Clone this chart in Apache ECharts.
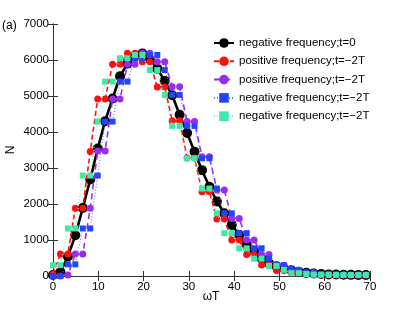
<!DOCTYPE html>
<html>
<head>
<meta charset="utf-8">
<script src="https://cdn.jsdelivr.net/npm/echarts@6/dist/echarts.min.js"></script>
<style>html,body{margin:0;padding:0;background:#fff}#c{width:409px;height:311px}</style>
</head>
<body>
<div id="c"></div>
<script>
var xValues = [0, 1.64, 3.29, 4.93, 6.58, 8.22, 9.87, 11.51, 13.16, 14.8, 16.45, 18.09, 19.74, 21.38, 23.03, 24.67, 26.32, 27.96, 29.61, 31.25, 32.9, 34.54, 36.19, 37.83, 39.48, 41.12, 42.77, 44.41, 46.06, 47.7, 49.35, 50.99, 52.64, 54.28, 55.93, 57.57, 59.22, 60.86, 62.51, 64.15, 65.8, 67.44, 69.09];
var negT0 = [30,110,540,1130,1890,2680,3540,4300,4930,5550,5900,6100,6180,6020,5760,5420,5020,4480,3970,3450,2940,2480,2070,1740,1420,1140,870,680,490,350,270,210,160,120,90,70,55,45,40,35,32,30,28];
var posA = [50,610,610,1880,1880,3460,4920,4920,5880,5880,6185,6185,5950,5950,5250,5250,4310,4310,3280,3280,2340,2340,1580,1580,1000,1000,600,600,305,305,150,150,80,80,45,45,30,30,28,28,26,26,25];
var posB = [0,0,30,610,610,1880,3470,3470,4920,4920,5880,5880,6185,6185,5950,5950,5260,5260,4290,4290,3310,3310,2390,2390,1600,1600,1000,1000,600,600,300,300,160,160,90,90,50,50,35,35,30,30,28];
var negA = [0,0,325,325,1320,1320,2790,4290,4290,5400,5400,6050,6050,6140,6140,5720,5030,5030,4170,4170,3270,3270,2430,1740,1740,1190,1190,770,770,480,300,300,200,150,100,70,50,40,35,30,30,28,28];
var negB = [300,300,1320,1320,2790,2790,4290,5400,5400,6050,6050,6140,6140,5720,5720,5030,4170,4170,3270,3270,2430,2430,1740,1190,1190,770,770,480,480,280,280,170,80,80,55,40,35,30,30,28,28,28,28];
var seriesNames = ['negative frequency;t=0', 'positive frequency;t=\u22122T', 'positive frequency;t=\u22122T\u200b', 'negative frequency;t=\u22122T', 'negative frequency;t=\u22122T\u200b'];
var xTicks = [0, 10, 20, 30, 40, 50, 60, 70];
var yTicks = [0, 1000, 2000, 3000, 4000, 5000, 6000, 7000];
var xName = '\u03c9T';
var yName = 'N';

function pairs(ys) { return xValues.map(function (x, i) { return [x, ys[i]]; }); }

var FONT = 'Liberation Sans, Arial, sans-serif';
var chart = echarts.init(document.getElementById('c'), null, {renderer: 'canvas'});
var axisCommon = {
  type: 'value', splitLine: {show: false},
  axisLine: {show: true, lineStyle: {color: '#333', width: 1}},
  axisTick: {show: true, inside: true, length: 5, lineStyle: {color: '#333'}}
};
chart.setOption({
  animation: false,
  textStyle: {fontFamily: FONT},
  grid: {left: 53, right: 39, top: 24, bottom: 35, containLabel: false, outerBoundsMode: 'none'},
  graphic: [
    {type: 'text', left: 2, top: 20, style: {text: '(a)', font: '12px ' + FONT, fill: '#000'}},
    {type: 'text', x: 211, y: 297, style: {text: xName, font: '12px ' + FONT, fill: '#000', align: 'center', verticalAlign: 'middle'}},
    {type: 'text', x: 11, y: 150, rotation: Math.PI / 2, style: {text: yName, font: '12px ' + FONT, fill: '#000', align: 'center', verticalAlign: 'middle'}}
  ],
  legend: {
    orient: 'vertical', left: 209, top: 34, padding: [3, 4, 3, 4],
    backgroundColor: '#fff', itemWidth: 20, itemHeight: 12, itemGap: 6.3,
    textStyle: {fontSize: 11.5, color: '#000', fontFamily: FONT},
    data: seriesNames
  },
  xAxis: [
    Object.assign({}, axisCommon, {
      min: xTicks[0], max: xTicks[xTicks.length - 1], interval: 10, position: 'bottom',
      axisLabel: {fontSize: 11.5, color: '#000', margin: 5, fontFamily: FONT, formatter: function (v) { return String(v); }}
    }),
    Object.assign({}, axisCommon, {
      min: xTicks[0], max: xTicks[xTicks.length - 1], interval: 10, position: 'top',
      axisLabel: {show: false}
    })
  ],
  yAxis: [
    Object.assign({}, axisCommon, {
      min: yTicks[0], max: yTicks[yTicks.length - 1], interval: 1000, position: 'left',
      axisLabel: {fontSize: 11.5, color: '#000', margin: 4, fontFamily: FONT, formatter: function (v) { return String(v); }}
    }),
    Object.assign({}, axisCommon, {
      min: yTicks[0], max: yTicks[yTicks.length - 1], interval: 1000, position: 'right',
      axisLabel: {show: false}
    })
  ],
  series: [
    {name: seriesNames[0], type: 'line', data: pairs(negT0), symbol: 'circle', symbolSize: 10,
     itemStyle: {color: '#000'}, lineStyle: {color: '#000', width: 2.6}, z: 2},
    {name: seriesNames[1], type: 'line', data: pairs(posA), symbol: 'circle', symbolSize: 7,
     itemStyle: {color: '#ff1010'}, lineStyle: {color: '#ff1010', width: 1.6, type: [5, 3]}, z: 3},
    {name: seriesNames[2], type: 'line', data: pairs(posB), symbol: 'circle', symbolSize: 7,
     itemStyle: {color: '#9a2cf2'}, lineStyle: {color: '#9a2cf2', width: 1.6, type: [6, 4]}, z: 4},
    {name: seriesNames[3], type: 'line', data: pairs(negA), symbol: 'rect', symbolSize: 6,
     itemStyle: {color: '#2244ff'}, lineStyle: {color: '#6677ff', width: 1.2, type: [1, 2]}, z: 5},
    {name: seriesNames[4], type: 'line', data: pairs(negB), symbol: 'rect', symbolSize: 6,
     itemStyle: {color: '#3ee8a6'}, lineStyle: {color: '#7af0c4', width: 1.2, type: [1, 2]}, z: 6}
  ]
});
</script>
</body>
</html>
